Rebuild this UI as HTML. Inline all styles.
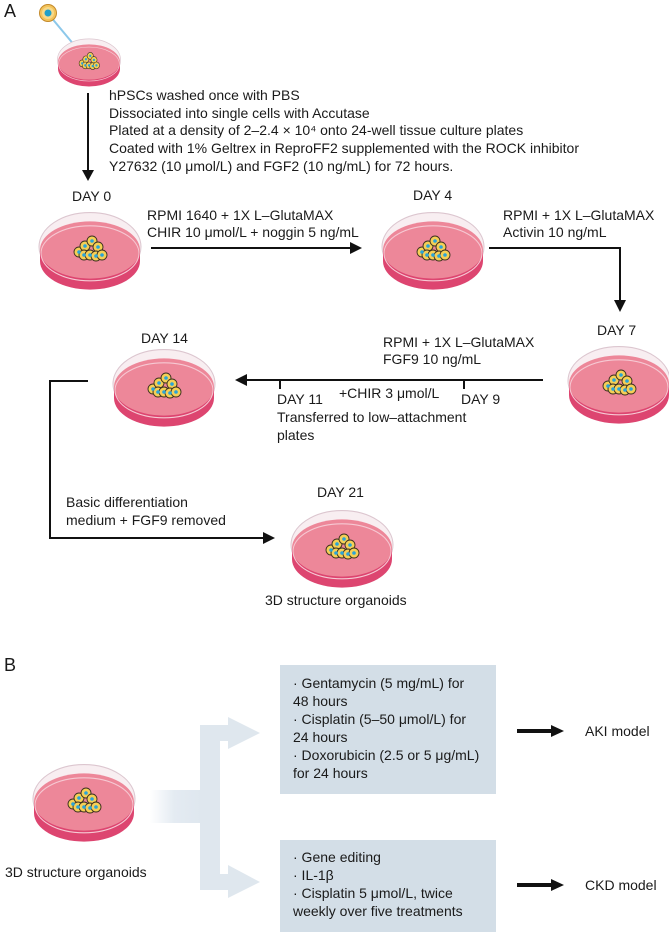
<!DOCTYPE html>
<html><head><meta charset="utf-8"><style>
html,body{margin:0;padding:0;background:#fff}
svg{display:block}
text{font-family:"Liberation Sans",Arial,sans-serif;font-size:14px;fill:#1a1a1a}
</style></head><body>
<svg width="669" height="932" viewBox="0 0 669 932" xmlns="http://www.w3.org/2000/svg">
<defs>
<g id="cells">
<g stroke="#3a3020" stroke-width="0.9" fill="#f5cf56">
<circle cx="-11" cy="2" r="5"/><circle cx="-5" cy="-4" r="5"/><circle cx="2" cy="-9" r="5"/>
<circle cx="8" cy="-3" r="5"/><circle cx="-6" cy="5" r="5"/><circle cx="0" cy="5" r="5"/>
<circle cx="6" cy="6" r="5"/><circle cx="12" cy="5" r="5"/>
</g>
<g fill="#2aa4d8">
<circle cx="-11" cy="2" r="1.8"/><circle cx="-5" cy="-4" r="1.8"/><circle cx="2" cy="-9" r="1.8"/>
<circle cx="8" cy="-3" r="1.8"/><circle cx="-6" cy="5" r="1.8"/><circle cx="0" cy="5" r="1.8"/>
<circle cx="6" cy="6" r="1.8"/><circle cx="12" cy="5" r="1.8"/>
</g>
</g>
<g id="dishbody">
<ellipse cx="0" cy="-3" rx="51" ry="31" fill="#f8eef1" stroke="#dcc6cf" stroke-width="1"/>
<ellipse cx="0" cy="10" rx="50" ry="26" fill="#dd4570"/>
<rect x="-50" y="0" width="100" height="10" fill="#dd4570"/>
<ellipse cx="0" cy="0" rx="50" ry="26" fill="#ed8799"/>
<ellipse cx="0" cy="3" rx="49" ry="25" fill="none" stroke="#f6c9d3" stroke-width="1"/>
</g>
<g id="dish">
<use href="#dishbody"/>
<use href="#cells"/>
</g>
<linearGradient id="fade" x1="0" x2="1" y1="0" y2="0">
<stop offset="0" stop-color="#e4ebf2" stop-opacity="0"/>
<stop offset="0.35" stop-color="#e4ebf2" stop-opacity="1"/>
<stop offset="1" stop-color="#dbe4ec"/>
</linearGradient>
</defs>

<text x="4" y="17" style="font-size:18px">A</text>
<line x1="50" y1="16" x2="80" y2="52" stroke="#8cc8ea" stroke-width="2"/>
<circle cx="48" cy="13" r="8.5" fill="#f3c35a" stroke="#c48a2a" stroke-width="1"/>
<circle cx="48" cy="13" r="6" fill="#f7d98a"/>
<circle cx="48" cy="13" r="3.5" fill="#1f9fc9"/>
<g transform="translate(89,62) scale(0.62,0.68)"><use href="#dish"/></g>

<line x1="88" y1="93" x2="88" y2="172" stroke="#111" stroke-width="2"/>
<polygon points="82,170 94,170 88,181" fill="#111"/>
<text x="109" y="100">hPSCs washed once with PBS</text>
<text x="109" y="118">Dissociated into single cells with Accutase</text>
<text x="109" y="135">Plated at a density of 2–2.4 × 10⁴ onto 24-well tissue culture plates</text>
<text x="109" y="153">Coated with 1% Geltrex in ReproFF2 supplemented with the ROCK inhibitor</text>
<text x="109" y="171">Y27632 (10 μmol/L) and FGF2 (10 ng/mL) for 72 hours.</text>

<text x="72" y="201">DAY 0</text>
<g transform="translate(90,250) scale(1,1.1)"><use href="#dishbody"/></g>
<g transform="translate(90,250)"><use href="#cells"/></g>
<text x="147" y="220">RPMI 1640 + 1X L–GlutaMAX</text>
<text x="147" y="237">CHIR 10 μmol/L + noggin 5 ng/mL</text>
<line x1="151" y1="248" x2="352" y2="248" stroke="#111" stroke-width="2"/>
<polygon points="350,242 362,248 350,254" fill="#111"/>

<text x="413" y="200">DAY 4</text>
<g transform="translate(433,250) scale(1,1.1)"><use href="#dishbody"/></g>
<g transform="translate(433,250)"><use href="#cells"/></g>
<text x="503" y="220">RPMI + 1X L–GlutaMAX</text>
<text x="503" y="237">Activin 10 ng/mL</text>
<polyline points="489,248 620,248 620,302" fill="none" stroke="#111" stroke-width="2"/>
<polygon points="614,300 626,300 620,312" fill="#111"/>

<text x="597" y="335">DAY 7</text>
<g transform="translate(619,384) scale(1,1.1)"><use href="#dishbody"/></g>
<g transform="translate(619,384)"><use href="#cells"/></g>
<text x="383" y="347">RPMI + 1X L–GlutaMAX</text>
<text x="383" y="364">FGF9 10 ng/mL</text>
<line x1="245" y1="380" x2="543" y2="380" stroke="#111" stroke-width="2"/>
<polygon points="247,374 235,380 247,386" fill="#111"/>
<line x1="280" y1="380" x2="280" y2="389" stroke="#111" stroke-width="2"/>
<line x1="464" y1="380" x2="464" y2="389" stroke="#111" stroke-width="2"/>
<text x="277" y="404">DAY 11</text>
<text x="339" y="398">+CHIR 3 μmol/L</text>
<text x="461" y="404">DAY 9</text>
<text x="277" y="422">Transferred to low–attachment</text>
<text x="277" y="440">plates</text>

<text x="141" y="343">DAY 14</text>
<g transform="translate(164,387) scale(1,1.1)"><use href="#dishbody"/></g>
<g transform="translate(164,387)"><use href="#cells"/></g>
<polyline points="88,381 50,381 50,538 265,538" fill="none" stroke="#111" stroke-width="2"/>
<polygon points="263,532 275,538 263,544" fill="#111"/>
<text x="66" y="507">Basic differentiation</text>
<text x="66" y="525">medium + FGF9 removed</text>

<text x="317" y="497">DAY 21</text>
<g transform="translate(342,548) scale(1,1.1)"><use href="#dishbody"/></g>
<g transform="translate(342,548)"><use href="#cells"/></g>
<text x="265" y="605">3D structure organoids</text>

<text x="4" y="671" style="font-size:18px">B</text>
<g transform="translate(84,802) scale(1,1.1)"><use href="#dishbody"/></g>
<g transform="translate(84,802)"><use href="#cells"/></g>
<text x="5" y="877">3D structure organoids</text>

<rect x="150" y="790" width="70" height="33" fill="url(#fade)"/>
<rect x="200" y="725" width="20" height="165" fill="#dfe7ee"/>
<rect x="200" y="725" width="30" height="16" fill="#dfe7ee"/>
<polygon points="228,717 260,733 228,749" fill="#dfe7ee"/>
<rect x="200" y="874" width="30" height="16" fill="#dfe7ee"/>
<polygon points="228,865 260,882 228,898" fill="#dfe7ee"/>

<rect x="280" y="665" width="216" height="129" fill="#d3dee7"/>
<text x="293" y="688">· Gentamycin (5 mg/mL) for</text>
<text x="293" y="706">48 hours</text>
<text x="293" y="724">· Cisplatin (5–50 μmol/L) for</text>
<text x="293" y="742">24 hours</text>
<text x="293" y="760">· Doxorubicin (2.5 or 5 μg/mL)</text>
<text x="293" y="778">for 24 hours</text>

<rect x="280" y="840" width="216" height="92" fill="#d3dee7"/>
<text x="293" y="862">· Gene editing</text>
<text x="293" y="880">· IL-1β</text>
<text x="293" y="898">· Cisplatin 5 μmol/L, twice</text>
<text x="293" y="916">weekly over five treatments</text>

<line x1="517" y1="731" x2="553" y2="731" stroke="#111" stroke-width="4"/>
<polygon points="551,725 564,731 551,737" fill="#111"/>
<text x="585" y="736">AKI model</text>
<line x1="517" y1="885" x2="553" y2="885" stroke="#111" stroke-width="4"/>
<polygon points="551,879 564,885 551,891" fill="#111"/>
<text x="585" y="890">CKD model</text>
</svg>
</body></html>
